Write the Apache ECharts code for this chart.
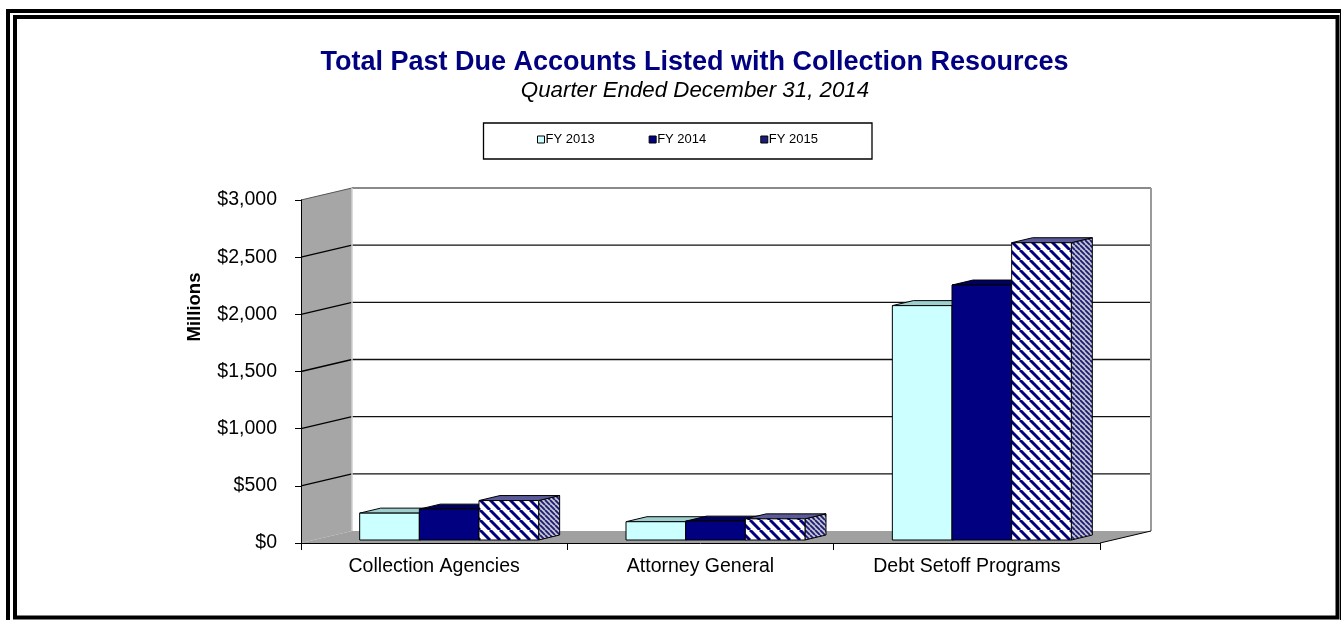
<!DOCTYPE html>
<html><head><meta charset="utf-8">
<script src="https://cdn.jsdelivr.net/npm/echarts@6/dist/echarts.min.js"></script>
<style>html,body{margin:0;padding:0;background:#fff}#c{width:1341px;height:620px}</style>
</head><body><div id="c"></div>
<script>
// ---- data ----
const categories = ['Collection Agencies', 'Attorney General', 'Debt Setoff Programs'];
const seriesNames = ['FY 2013', 'FY 2014', 'FY 2015'];
const fy2013 = [235, 160, 2050];
const fy2014 = [270, 165, 2230];
const fy2015 = [345, 185, 2600];
const yTicks = [0, 500, 1000, 1500, 2000, 2500, 3000];
const yTickLabels = ['$0', '$500', '$1,000', '$1,500', '$2,000', '$2,500', '$3,000'];
const titleText = 'Total Past Due Accounts Listed with Collection Resources';
const subtitleText = 'Quarter Ended December 31, 2014';
const yAxisTitle = 'Millions';

// ---- styling helpers ----
const FONT = 'Liberation Sans, Arial, sans-serif';
function stripes(period, lw, bg, fg) {
  const c = document.createElement('canvas');
  c.width = period; c.height = period;
  const ctx = c.getContext('2d');
  ctx.fillStyle = bg; ctx.fillRect(0, 0, period, period);
  ctx.strokeStyle = fg; ctx.lineWidth = lw;
  ctx.beginPath();
  for (let k = -1; k <= 1; k++) { ctx.moveTo(k * period, 0); ctx.lineTo(k * period + period, period); }
  ctx.stroke();
  return { image: c, repeat: 'repeat' };
}
const faceStyles = [
  { front: '#CCFFFF', top: '#9ECFCF', side: '#9ECFCF' },
  { front: '#000080', top: '#00005E', side: '#00005E' },
  { front: stripes(10, 3, '#ffffff', '#000080'), top: '#5A5A98', side: stripes(5, 1.8, '#c4c4cc', '#1a1a78') }
];
const legendColors = ['#CCFFFF', '#000080', '#1c1c78'];

const WALL_DX = 51, WALL_DY = -12;      // 3D depth of walls
const BAR_SHIFT_X = 15, BAR_SHIFT_Y = -3; // bars sit slightly behind the front edge
const BAR_DX = 21, BAR_DY = -5;         // bar depth
const BAR_FRAC = 0.224;

function renderWalls(params, api) {
  const cs = params.coordSys;
  const x0 = cs.x, x1 = cs.x + cs.width, yt = cs.y, yb = cs.y + cs.height;
  const ch = [];
  ch.push({ type: 'rect', shape: { x: x0 + WALL_DX, y: yt + WALL_DY, width: cs.width, height: cs.height }, style: { fill: '#fff' } });
  ch.push({ type: 'polygon', shape: { points: [[x0, yb], [x0, yt], [x0 + WALL_DX, yt + WALL_DY], [x0 + WALL_DX, yb + WALL_DY]] }, style: { fill: '#a6a6a6' } });
  ch.push({ type: 'polygon', shape: { points: [[x0, yb], [x1, yb], [x1 + WALL_DX, yb + WALL_DY], [x0 + WALL_DX, yb + WALL_DY]] }, style: { fill: '#a0a0a0' } });
  const maxV = yTicks[yTicks.length - 1];
  yTicks.forEach(v => {
    if (v === 0) return;
    const y = api.coord([0, v])[1];
    const isTop = v === maxV;
    ch.push({ type: 'line', shape: { x1: x0, y1: y, x2: x0 + WALL_DX, y2: y + WALL_DY }, style: { stroke: isTop ? '#555' : '#000', lineWidth: isTop ? 1 : 1.3 } });
    ch.push({ type: 'line', shape: { x1: x0 + WALL_DX, y1: y + WALL_DY, x2: x1 + WALL_DX, y2: y + WALL_DY }, style: { stroke: isTop ? '#8a8a8a' : '#111', lineWidth: isTop ? 2 : 1.3 } });
  });
  ch.push({ type: 'line', shape: { x1: x0 + WALL_DX, y1: yt + WALL_DY, x2: x0 + WALL_DX, y2: yb + WALL_DY }, style: { stroke: '#cfcfcf', lineWidth: 1.5 } });
  ch.push({ type: 'line', shape: { x1: x1 + WALL_DX, y1: yt + WALL_DY, x2: x1 + WALL_DX, y2: yb + WALL_DY }, style: { stroke: '#9a9a9a', lineWidth: 2 } });
  ch.push({ type: 'line', shape: { x1: x1, y1: yb, x2: x1 + WALL_DX, y2: yb + WALL_DY }, style: { stroke: '#000', lineWidth: 1 } });
  return { type: 'group', children: ch };
}

function makeBarRender(s) {
  const f = faceStyles[s];
  return function (params, api) {
    const ci = api.value(0), v = api.value(1);
    const base = api.coord([ci, 0]);
    const topP = api.coord([ci, v]);
    const band = api.size([1, 0])[0];
    const w = band * BAR_FRAC;
    const l = base[0] - 1.5 * w + s * w + BAR_SHIFT_X;
    const r = l + w;
    const yb = base[1] + BAR_SHIFT_Y, yt = topP[1] + BAR_SHIFT_Y;
    const st = { stroke: '#000', lineWidth: 1 };
    return {
      type: 'group', children: [
        { type: 'polygon', shape: { points: [[r, yb], [r, yt], [r + BAR_DX, yt + BAR_DY], [r + BAR_DX, yb + BAR_DY]] }, style: Object.assign({ fill: f.side }, st) },
        { type: 'polygon', shape: { points: [[l, yt], [r, yt], [r + BAR_DX, yt + BAR_DY], [l + BAR_DX, yt + BAR_DY]] }, style: Object.assign({ fill: f.top }, st) },
        { type: 'rect', shape: { x: l, y: yt, width: w, height: yb - yt }, style: Object.assign({ fill: f.front }, st) }
      ]
    };
  };
}

const seriesData = [fy2013, fy2014, fy2015];
const chart = echarts.init(document.getElementById('c'), null, { renderer: 'canvas' });
const option = {
  animation: false,
  backgroundColor: '#fff',
  textStyle: { fontFamily: FONT },
  grid: { left: 301, right: 241, top: 200, bottom: 77, containLabel: false },
  xAxis: {
    type: 'category', data: categories,
    axisLine: { show: true, lineStyle: { color: '#000', width: 1 } },
    axisTick: { show: true, length: 7, lineStyle: { color: '#000' } },
    axisLabel: { fontSize: 19.5, color: '#000', margin: 14, fontFamily: FONT },
    splitLine: { show: false }
  },
  yAxis: {
    type: 'value', min: 0, max: 3000, interval: 500,
    axisLine: { show: true, lineStyle: { color: '#000', width: 1 } },
    axisTick: { show: true, length: 6, lineStyle: { color: '#000' } },
    axisLabel: { fontSize: 19.5, color: '#000', margin: 24, fontFamily: FONT,
      formatter: v => { const i = yTicks.indexOf(v); return i >= 0 ? yTickLabels[i] : ''; } },
    splitLine: { show: false }
  },
  legend: {
    data: seriesNames.map((n, i) => ({ name: n, itemStyle: { color: legendColors[i], borderColor: '#000', borderWidth: 1 } })),
    icon: 'rect', itemWidth: 7, itemHeight: 7, itemGap: 54,
    left: 537, top: 133, padding: 0,
    textStyle: { fontSize: 13, color: '#000', fontFamily: FONT, padding: [0, 0, 0, -4] },
    selectedMode: false
  },
  graphic: [
    { type: 'rect', silent: true, z: 100, shape: { x: 8, y: 11, width: 1334, height: 700 }, style: { fill: null, stroke: '#000', lineWidth: 4 } },
    { type: 'rect', silent: true, z: 100, shape: { x: 15, y: 17, width: 1322.5, height: 600.5 }, style: { fill: null, stroke: '#000', lineWidth: 4 } },
    { type: 'rect', silent: true, z: 1, shape: { x: 483.5, y: 123, width: 388.5, height: 36 }, style: { fill: '#fff', stroke: '#000', lineWidth: 1.3 } },
    { type: 'text', silent: true, x: 694.5, y: 63, style: { text: titleText, font: 'bold 27px ' + FONT, fill: '#000080', align: 'center', verticalAlign: 'middle' } },
    { type: 'text', silent: true, x: 695, y: 91, style: { text: subtitleText, font: 'italic 22.3px ' + FONT, fill: '#000', align: 'center', verticalAlign: 'middle' } },
    { type: 'text', silent: true, x: 194.5, y: 307, rotation: Math.PI / 2, style: { text: yAxisTitle, font: 'bold 18.5px ' + FONT, fill: '#000', align: 'center', verticalAlign: 'middle' } }
  ],
  series: [
    { type: 'custom', name: 'walls', z: -1, clip: false, silent: true, renderItem: renderWalls, data: [[0, 0]], encode: { x: 0, y: 1 } }
  ].concat(seriesData.map((arr, s) => ({
    type: 'custom', name: seriesNames[s], z: 3 + s, clip: false, silent: true,
    itemStyle: { color: legendColors[s] },
    renderItem: makeBarRender(s),
    data: arr.map((v, i) => [i, v]),
    encode: { x: 0, y: 1 }
  })))
};
chart.setOption(option);
</script>
</body></html>
